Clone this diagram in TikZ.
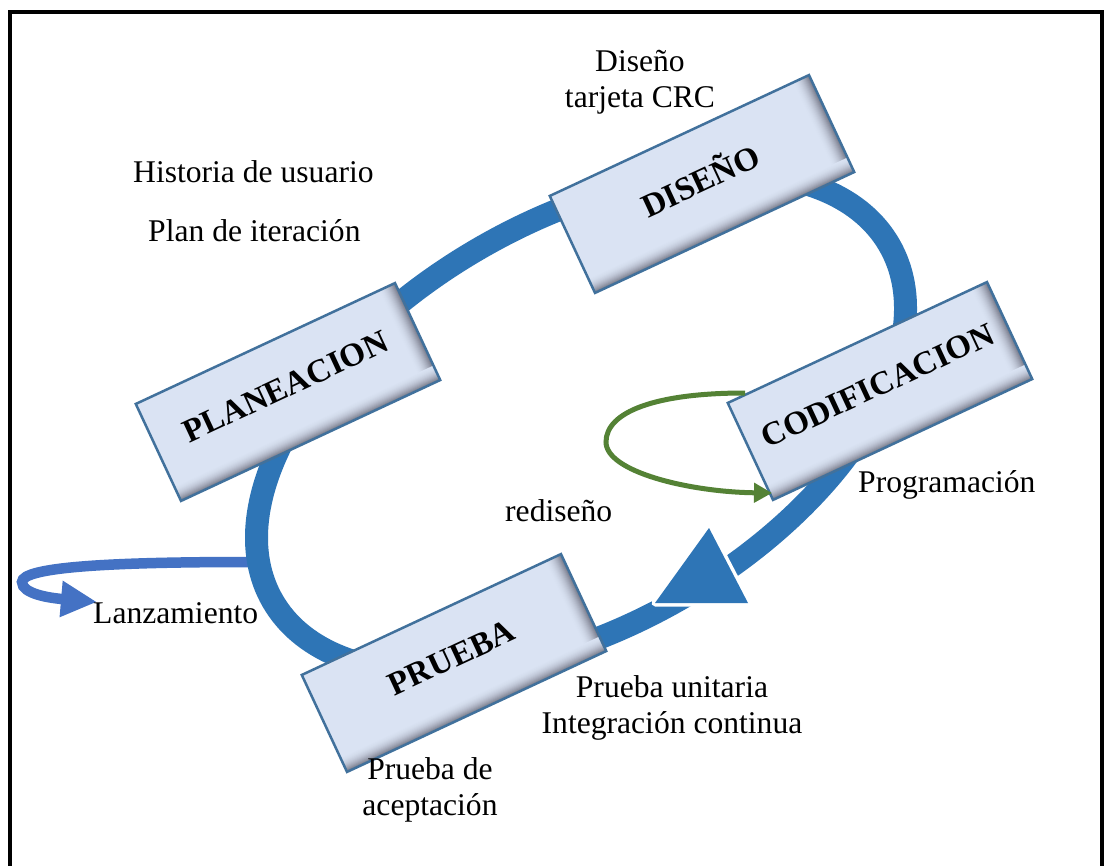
\documentclass[tikz,border=0pt]{standalone}
\usepackage{fontspec}
\setmainfont{Liberation Serif}
\usetikzlibrary{arrows.meta}
\definecolor{boxfill}{HTML}{DAE3F3}
\definecolor{boxline}{HTML}{41719C}
\definecolor{ringc}{HTML}{2E75B6}
\definecolor{greenc}{HTML}{548235}
\definecolor{lanzc}{HTML}{4472C4}
\definecolor{shadowc}{HTML}{5C5D6C}
\newcommand\phasebox[3]{%
  \begin{scope}[shift={#2}, rotate=25]
    \fill[boxfill] (-143,-53.5) rectangle (143,53.5);
    \foreach \k in {0,...,17}{%
      \pgfmathsetmacro\p{80*((\k+1)/18)^2}%
      \fill[shadowc!\p!boxfill] (143-18+\k,-53.5) rectangle (143,53.5);
    }
    \foreach \k in {0,...,15}{%
      \pgfmathsetmacro\p{78*((\k+1)/16)^2}%
      \fill[shadowc!\p!boxfill] (-143,53.5-16+\k) rectangle (143,53.5);
    }
    \node[phase] (#1) at (0,0) {#3};
  \end{scope}}
\begin{document}
\begin{tikzpicture}[x=1pt,y=-1pt,
  lbl/.style={font=\fontsize{31.6}{36}\selectfont, inner sep=0pt},
  mlbl/.style={font=\fontsize{31.6}{36}\selectfont, inner sep=0pt, align=center},
  phase/.style={draw=boxline, line width=2.5pt, rotate=25, minimum width=286pt,
    minimum height=107pt, inner sep=0pt, text depth=12pt,
    font=\fontsize{33}{38}\selectfont\bfseries}]
\useasboundingbox (0,0) rectangle (1108,866);
\fill[white] (0,0) rectangle (1108,866);
% frame
\draw[line width=4pt, line join=miter] (10.3,866) -- (10.3,12) -- (1101.7,12) -- (1101.7,866);
% Lanzamiento arrow
\coordinate (lz0) at (250,562);
\coordinate (lz1) at (97,602);
\draw[lanzc, line width=10.5pt, -{Triangle[length=36pt,width=34pt]}]
  (lz0) .. controls (110,562) and (22,567) .. (22,582)
        .. controls (22,594) and (50,598) .. (lz1);
% ring
\coordinate (ringcenter) at (581,423);
\draw[ringc, line width=23pt, rotate around={30:(ringcenter)}]
  (ringcenter) ellipse [x radius=356pt, y radius=202pt];
% arrow head on ring
\coordinate (t1) at (709,528);
\coordinate (t2) at (748,603);
\coordinate (t3) at (655,603);
\filldraw[white, line width=7pt, line join=round] (t1) -- (t2) -- (t3) -- cycle;
\fill[ringc] (t1) -- (t2) -- (t3) -- cycle;
% boxes
\phasebox{plan}{(288,392)}{PLANEACION}
\phasebox{dis}{(702,184)}{DISEÑO}
\phasebox{cod}{(880,391)}{CODIFICACION}
\phasebox{pru}{(454,663)}{PRUEBA}
% green loop
\coordinate (g0) at (745,393);
\coordinate (g1) at (772,493);
\draw[greenc, line width=5pt, -{Triangle[length=18pt,width=19pt]}]
  (g0) .. controls (655,393) and (606,412) .. (606,442)
       .. controls (606,472) and (690,492) .. (g1);
% texts
\node[mlbl] (dtxt) at (640,82.6) {Diseño\\tarjeta CRC};
\node[lbl, anchor=base west] (hist) at (133,183) {Historia de usuario};
\node[lbl, anchor=base west] (pit) at (148,242) {Plan de iteración};
\node[lbl, anchor=base west] (prog) at (858,492) {Programación};
\node[lbl, anchor=base west] (redis) at (505,521) {rediseño};
\node[lbl, anchor=base west] (lanz) at (93,623) {Lanzamiento};
\node[mlbl] (put) at (672,707.7) {Prueba unitaria\\Integración continua};
\node[mlbl] (pacc) at (430,789.7) {Prueba de\\aceptación};
\end{tikzpicture}
\end{document}
